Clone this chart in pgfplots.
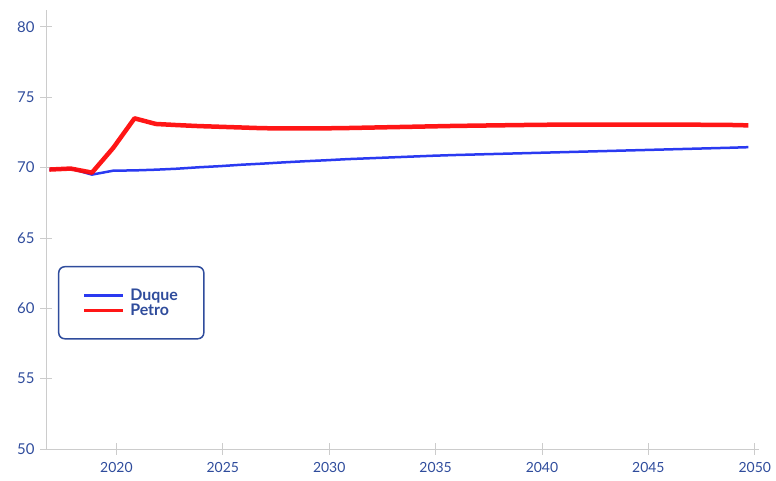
\documentclass[border=0pt]{standalone}
\usepackage{pgfplots}
\pgfplotsset{compat=1.18}
\usepackage{fontspec}
\setmainfont{Lato}
\definecolor{labblue}{HTML}{2F4C9C}
\definecolor{lineblue}{HTML}{1F2FF0}
\definecolor{linered}{HTML}{FF0A0A}
\definecolor{axgray}{HTML}{CCCCCC}
\begin{document}
\begin{tikzpicture}[x=1bp,y=1bp]
\useasboundingbox (-46,-32) rectangle (730,449);
\begin{axis}[
  at={(0,0)}, anchor=origin,
  scale only axis, width=713bp, height=439bp,
  xmin=2016.69, xmax=2050.2, ymin=50, ymax=81.2,
  axis x line*=bottom, axis y line*=left,
  axis line style={axgray, line width=0.8bp},
  xtick={2020,2025,...,2050}, ytick={50,55,...,80},
  tick align=center, major tick length=12bp,
  tick style={axgray, line width=0.8bp},
  xticklabel style={font=\fontsize{14}{16}\selectfont, text=labblue, yshift=-4bp},
  yticklabel style={font=\fontsize{15}{17}\selectfont, text=labblue, xshift=-2bp},
  /pgf/number format/assume math mode=true,
  /pgf/number format/1000 sep={},
  legend style={at={(rel axis cs:0.0168,0.4169)}, anchor=north west,
    draw=labblue, line width=1.5bp, rounded corners=6bp,
    inner xsep=24bp, inner ysep=21bp,
    font=\fontsize{16}{16}\selectfont\bfseries, text=labblue,
    row sep=0bp, nodes={inner ysep=1bp}},
  legend cell align=left,
  legend image code/.code={\draw[#1, line width=2.6bp] (-2bp,0bp) -- (37bp,0bp); \path (40bp,0bp);},
]
\addplot[lineblue, line width=2.5bp, line join=round, opacity=0.95] coordinates {
(2016.85,69.86) (2017.85,69.93) (2018.85,69.5) (2019.85,69.78) (2020.85,69.8)
(2021.85,69.85) (2022.85,69.92) (2023.85,70.02) (2024.85,70.1) (2025.85,70.2)
(2026.85,70.28) (2027.85,70.37) (2028.85,70.45) (2029.85,70.52) (2030.85,70.6)
(2031.85,70.66) (2032.85,70.72) (2033.85,70.78) (2034.85,70.84) (2035.85,70.89)
(2036.85,70.93) (2037.85,70.97) (2038.85,71.01) (2039.85,71.05) (2040.85,71.09)
(2041.85,71.13) (2042.85,71.17) (2043.85,71.21) (2044.85,71.25) (2045.85,71.29)
(2046.85,71.33) (2047.85,71.37) (2048.85,71.41) (2049.7,71.45)};
\addlegendentry{Duque}
\addplot[linered, line width=4.5bp, line join=round, opacity=0.95] coordinates {
(2016.85,69.86) (2017.85,69.93) (2018.85,69.64) (2019.85,71.4) (2020.85,73.5)
(2021.85,73.1) (2022.85,73.02) (2023.85,72.95) (2024.85,72.9) (2025.85,72.85)
(2026.85,72.8) (2027.85,72.78) (2028.85,72.78) (2029.85,72.79) (2030.85,72.81)
(2031.85,72.84) (2032.85,72.87) (2033.85,72.9) (2034.85,72.93) (2035.85,72.96)
(2036.85,72.98) (2037.85,73.0) (2038.85,73.02) (2039.85,73.04) (2040.85,73.05)
(2041.85,73.06) (2042.85,73.06) (2043.85,73.06) (2044.85,73.06) (2045.85,73.06)
(2046.85,73.05) (2047.85,73.04) (2048.85,73.03) (2049.7,73.0)};
\addlegendentry{Petro}
\end{axis}
\end{tikzpicture}
\end{document}
